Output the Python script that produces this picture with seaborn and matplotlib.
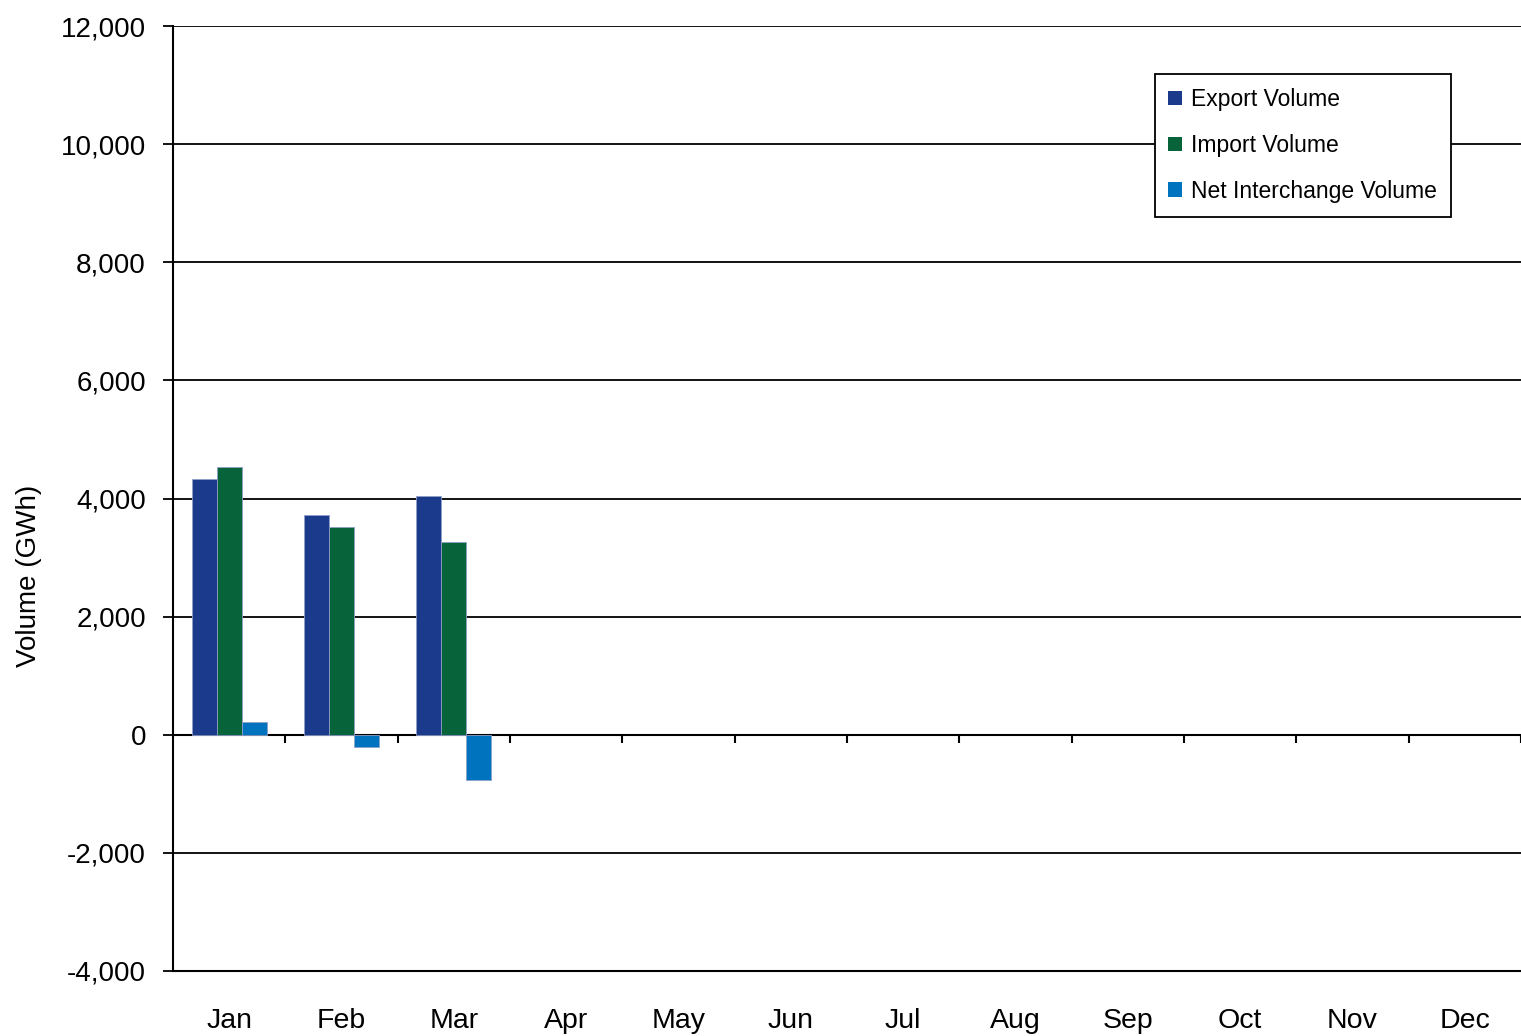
import numpy as np
import pandas as pd
import seaborn as sns
import matplotlib.pyplot as plt
from matplotlib.ticker import FuncFormatter

## DATA (GWh)
months = ["Jan", "Feb", "Mar", "Apr", "May", "Jun",
          "Jul", "Aug", "Sep", "Oct", "Nov", "Dec"]
series_names = ["Export Volume", "Import Volume", "Net Interchange Volume"]
data_months = ["Jan", "Feb", "Mar"]
export_vol = [4335, 3723, 4044]
import_vol = [4541, 3520, 3262]
net_vol = [214, -214, -770]
y_ticks = [-4000, -2000, 0, 2000, 4000, 6000, 8000, 10000, 12000]

# long format for seaborn
df = pd.DataFrame({'Month': data_months * 3,
                   'Series': np.repeat(series_names, len(data_months)),
                   'Volume': export_vol + import_vol + net_vol})

## STYLE
sns.set_theme(style='white')
plt.rcParams['font.family'] = ['Liberation Sans', 'DejaVu Sans']
plt.rcParams['text.color'] = 'black'

thisColorPalette = ['#1B3A8C', '#07643A', '#0073BF']

fig = plt.figure(figsize=(15.21, 10.36), dpi=100)
ax = fig.add_axes([173/1521, 65/1036, 1 - 173/1521, 945/1036])

sns.barplot(ax=ax, data=df, x='Month', y='Volume', hue='Series',
            order=months, hue_order=series_names, palette=thisColorPalette,
            width=0.67, saturation=1, edgecolor='#8fa0c8', linewidth=0.6,
            errorbar=None)

# axes limits / ticks
ax.set_ylim(-4000, 12000)
ax.set_xlim(-0.5, 11.5)
ax.set_yticks(y_ticks)
ax.yaxis.set_major_formatter(FuncFormatter(lambda v, p: f'{int(v):,}'))
ax.yaxis.grid(True, color='black', lw=1.3)
ax.set_axisbelow(True)
ax.tick_params(axis='y', direction='out', length=7.5, width=1.3, color='black',
               left=True, pad=12, labelsize=20, labelcolor='black')
ax.tick_params(axis='x', length=0, pad=27, labelsize=20.5, labelcolor='black')

for s in ['top', 'right']:
    ax.spines[s].set_visible(False)
for s in ['left', 'bottom']:
    ax.spines[s].set_color('black')
    ax.spines[s].set_linewidth(1.5)

# zero line with category separator ticks
sec = ax.secondary_xaxis(0.25)
sec.set_xticks(np.arange(0.5, 11.6, 1.0))
sec.set_xticklabels([])
sec.tick_params(axis='x', direction='out', length=6, width=1.5, color='black')
sec.spines['bottom'].set_color('black')
sec.spines['bottom'].set_linewidth(1.5)

ax.set_xlabel(None)
ax.set_ylabel('Volume (GWh)', fontsize=20, color='black')
ax.yaxis.set_label_coords(-0.097, 0.418)

leg = ax.legend(loc='upper right', bbox_to_anchor=(0.948, 0.949), fontsize=16.5,
                frameon=True, fancybox=False, edgecolor='black', framealpha=1,
                handlelength=0.6, handleheight=0.6, handletextpad=0.4,
                labelspacing=1.0, borderpad=0.6, borderaxespad=0,
                labelcolor='black')
leg.get_frame().set_linewidth(1.3)
for h in leg.legend_handles:
    h.set_edgecolor('none')

plt.savefig('out.png', dpi=100)
